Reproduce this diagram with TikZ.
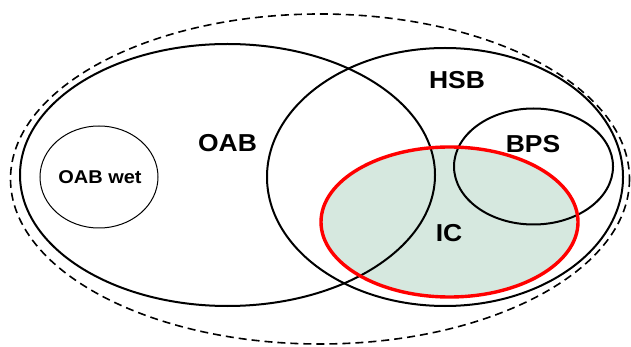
\documentclass[tikz,border=0pt]{standalone}
\usepackage{fontspec}
\setmainfont{Liberation Sans}
\newfontfamily\labelfont[FakeStretch=1.08]{Liberation Sans}
\definecolor{icfill}{RGB}{214,232,223}
\definecolor{icred}{RGB}{255,0,0}
\tikzset{
  setline/.style={draw=black, line width=2pt},
  thinset/.style={draw=black, line width=1pt},
  outerset/.style={draw=black, line width=1.6pt, dash pattern=on 8pt off 5pt},
  setlabel/.style={font=\labelfont\fontsize{24.5}{24.5}\selectfont\bfseries, inner sep=0pt},
}
\begin{document}
\begin{tikzpicture}[x=1pt, y=-1pt]
  \useasboundingbox (0,0) rectangle (631,347);
  % shaded IC region underneath the outlines
  \fill[icfill] (449.5,222) ellipse [x radius=128.5, y radius=75];
  % set outlines
  \draw[outerset] (320,179) ellipse [x radius=309.5, y radius=165];
  \draw[setline] (227.5,175) ellipse [x radius=207.5, y radius=131];
  \draw[setline] (445,177) ellipse [x radius=178, y radius=129];
  \draw[setline] (533.5,166.5) ellipse [x radius=79.5, y radius=58];
  \draw[thinset] (99,177) ellipse [x radius=59, y radius=51];
  \draw[draw=icred, line width=3.4pt] (449.5,222) ellipse [x radius=128.5, y radius=75];
  % labels
  \node[setlabel] (oab) at (227.5,143.5) {OAB};
  \node[setlabel] (hsb) at (457,80) {HSB};
  \node[setlabel] (bps) at (533,144) {BPS};
  \node[setlabel] (ic) at (449,233) {IC};
  \node[setlabel, font=\labelfont\fontsize{18.5}{18.5}\selectfont\bfseries] (oabwet) at (100,177) {OAB wet};
\end{tikzpicture}
\end{document}
